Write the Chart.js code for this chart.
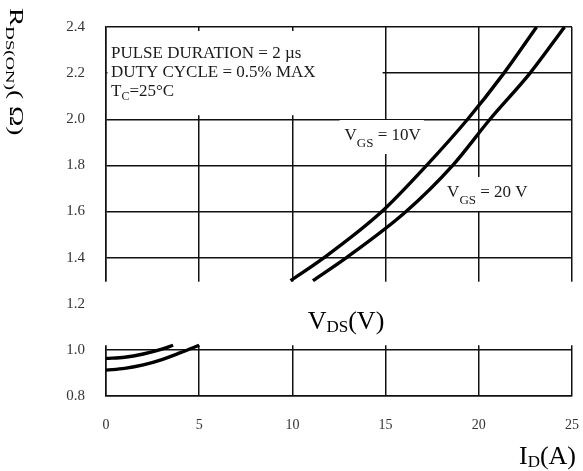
<!DOCTYPE html>
<html>
<head>
<meta charset="utf-8">
<script src="https://cdn.jsdelivr.net/npm/chart.js@4"></script>
<style>
  html, body { margin: 0; padding: 0; background: #fff; }
  #wrap { width: 583px; height: 471px; }
</style>
</head>
<body>
<div id="wrap"><canvas id="rdsChart" width="583" height="471"></canvas></div>
<script>
// drain current (A) vs on-resistance (ohm), two gate voltages
// the axis is broken between 1.02 and 1.3 ohm, so each curve comes in two pieces
const lowId10 = [0, 1, 2, 3, 3.6];
const lowR10 = [0.963, 0.968, 0.982, 1.003, 1.02];
const lowId20 = [0, 1, 2, 3, 4, 5];
const lowR20 = [0.912, 0.920, 0.935, 0.958, 0.988, 1.02];

const highId10 = [9.9, 11.7, 14.8, 17.2, 19.4, 21.35, 23.1];
const highR10 = [1.3, 1.4, 1.6, 1.8, 2.0, 2.2, 2.4];
const highId20 = [11.1, 12.9, 16.1, 18.6, 20.6, 22.75, 24.6];
const highR20 = [1.3, 1.4, 1.6, 1.8, 2.0, 2.2, 2.4];

const xTicks = [0, 5, 10, 15, 20, 25];
const yTicks = [0.8, 1.0, 1.2, 1.4, 1.6, 1.8, 2.0, 2.2, 2.4];

const breakLow = 1.02;
const breakHigh = 1.3;

const SERIF = '"Liberation Serif", "Times New Roman", serif';

function pts(xs, ys) {
  return xs.map((x, i) => ({ x: x, y: ys[i] }));
}

function curve(xs, ys) {
  return {
    data: pts(xs, ys),
    showLine: true,
    borderColor: '#000',
    borderWidth: 3.4,
    pointRadius: 0,
    tension: 0.4,
    cubicInterpolationMode: 'monotone',
    fill: false
  };
}

// text made of pieces, some of them subscript
function richWidth(ctx, parts, size, subSize) {
  let w = 0;
  parts.forEach(p => {
    ctx.font = (p.sub ? subSize : size) + 'px ' + SERIF;
    w += ctx.measureText(p.t).width;
  });
  return w;
}

function richText(ctx, parts, x, y, size, subSize, subDrop) {
  let cx = x;
  parts.forEach(p => {
    ctx.font = (p.sub ? subSize : size) + 'px ' + SERIF;
    ctx.fillText(p.t, cx, p.sub ? y + subDrop : y);
    cx += ctx.measureText(p.t).width;
  });
  return cx;
}

// keep the plot box where the layout padding puts it
function noEdgePadding(scale) {
  scale.paddingLeft = 0;
  scale.paddingRight = 0;
  scale.paddingTop = 0;
  scale.paddingBottom = 0;
}

const annotations = {
  id: 'annotations',
  beforeDatasetsDraw(chart) {
    const ctx = chart.ctx;
    const a = chart.chartArea;
    const xs = chart.scales.x;
    const ys = chart.scales.y;
    ctx.save();
    ctx.fillStyle = '#fff';

    // broken axis band
    const gTop = ys.getPixelForValue(breakHigh) + 1;
    const gBot = ys.getPixelForValue(breakLow);
    ctx.fillRect(a.left - 3, gTop, a.right - a.left + 6, gBot - gTop);

    // test conditions box
    const bx0 = a.left + 1.5;
    const bx1 = xs.getPixelForValue(15) - 3;
    const by0 = a.top + 4;
    const by1 = ys.getPixelForValue(2.0) - 4;
    ctx.fillRect(bx0, by0, bx1 - bx0, by1 - by0);

    ctx.fillStyle = '#1a1a1a';
    ctx.textBaseline = 'alphabetic';
    ctx.textAlign = 'left';
    ctx.font = '17px ' + SERIF;
    ctx.fillText('PULSE DURATION = 2 \u00b5s', 111, 58);
    ctx.fillText('DUTY CYCLE = 0.5% MAX', 111, 77);
    richText(ctx, [{ t: 'T' }, { t: 'C', sub: true }, { t: '=25\u00b0C' }], 111, 96, 17, 12, 4);

    // curve labels
    const lab10 = [{ t: 'V' }, { t: 'GS', sub: true }, { t: ' = 10V' }];
    const lab20 = [{ t: 'V' }, { t: 'GS', sub: true }, { t: ' = 20 V' }];
    [[lab10, 12.8, 1.91], [lab20, 18.3, 1.663]].forEach(([parts, vx, vy]) => {
      const px = xs.getPixelForValue(vx);
      const py = ys.getPixelForValue(vy);
      const w = richWidth(ctx, parts, 17, 13);
      ctx.fillStyle = '#fff';
      ctx.fillRect(px - 5, py - 20, w + 8, 34);
      ctx.fillStyle = '#1a1a1a';
      richText(ctx, parts, px, py, 17, 13, 7);
    });
    ctx.restore();
  },
  afterDraw(chart) {
    const ctx = chart.ctx;
    ctx.save();
    ctx.fillStyle = '#000';
    ctx.textBaseline = 'alphabetic';
    ctx.textAlign = 'left';

    // label inside the axis break
    const vds = [{ t: 'V' }, { t: 'DS', sub: true }, { t: '(V)' }];
    const vw = richWidth(ctx, vds, 26, 17);
    richText(ctx, vds, 346 - vw / 2, 329, 26, 17, 3);

    // x axis title
    const idp = [{ t: 'I' }, { t: 'D', sub: true }, { t: '(A)' }];
    const iw = richWidth(ctx, idp, 26, 17);
    richText(ctx, idp, 576 - iw, 464, 26, 17, 3);

    // y axis title, reading downwards
    const rds = [{ t: 'R' }, { t: 'DS(ON)', sub: true }, { t: '( \u03a9)' }];
    ctx.translate(10, 8);
    ctx.rotate(Math.PI / 2);
    ctx.scale(1.25, 0.9);
    richText(ctx, rds, 0, 0, 22, 15, 4);
    ctx.restore();
  }
};

new Chart(document.getElementById('rdsChart').getContext('2d'), {
  type: 'scatter',
  data: {
    datasets: [
      curve(lowId10, lowR10),
      curve(lowId20, lowR20),
      curve(highId10, highR10),
      curve(highId20, highR20)
    ]
  },
  options: {
    responsive: false,
    animation: false,
    events: [],
    layout: { padding: { left: 30, right: 11, top: 27, bottom: 0 } },
    plugins: {
      legend: { display: false },
      tooltip: { enabled: false },
      title: { display: false }
    },
    scales: {
      x: {
        type: 'linear',
        min: 0,
        max: 25,
        afterFit(scale) { scale.height = 75; noEdgePadding(scale); },
        afterBuildTicks(scale) { scale.ticks = xTicks.map(v => ({ value: v })); },
        grid: { color: '#111', lineWidth: 1.5, drawTicks: false },
        border: { color: '#111', width: 1.5 },
        ticks: {
          padding: 21,
          color: '#333',
          font: { family: SERIF, size: 14 },
          callback: v => String(v)
        }
      },
      y: {
        type: 'linear',
        min: 0.8,
        max: 2.4,
        afterFit(scale) { scale.width = 76; noEdgePadding(scale); },
        afterBuildTicks(scale) { scale.ticks = yTicks.map(v => ({ value: v })); },
        grid: { color: '#111', lineWidth: 1.5, drawTicks: false },
        border: { color: '#111', width: 1.5 },
        ticks: {
          padding: 21,
          color: '#333',
          font: { family: SERIF, size: 15 },
          callback: v => v.toFixed(1)
        }
      }
    }
  },
  plugins: [annotations]
});
</script>
</body>
</html>
